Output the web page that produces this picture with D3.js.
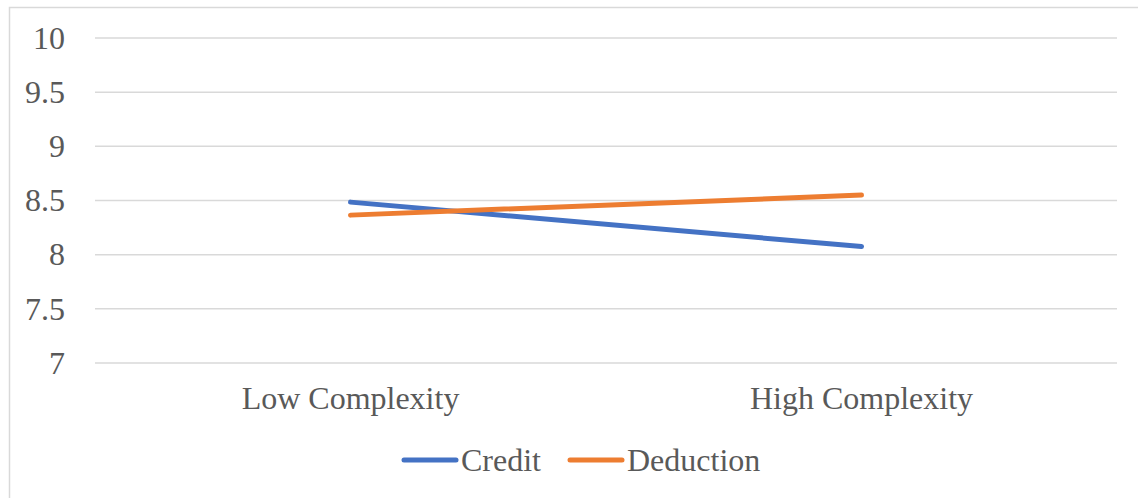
<!DOCTYPE html>
<html>
<head>
<meta charset="utf-8">
<script src="https://cdn.jsdelivr.net/npm/d3@7"></script>
<style>
  body { margin: 0; background: #fff; }
  text { font-family: "Liberation Serif", "Times New Roman", serif; fill: #595959; }
</style>
</head>
<body>
<svg id="chart"></svg>
<script>
const categories = ["Low Complexity", "High Complexity"];
const creditValues = [8.485, 8.075];
const deductionValues = [8.365, 8.55];
const yTicks = [7, 7.5, 8, 8.5, 9, 9.5, 10];
const seriesNames = ["Credit", "Deduction"];
const seriesColors = ["#4472C4", "#ED7D31"];

const W = 1138, H = 498;
const margin = { top: 38, right: 21, bottom: 135, left: 95 },
  width = W - margin.left - margin.right,
  height = H - margin.top - margin.bottom;

const svgRoot = d3.select("#chart").attr("width", W).attr("height", H);

// outer chart border
svgRoot.append("rect")
  .attr("x", 9.5).attr("y", 7.5)
  .attr("width", W + 20).attr("height", H + 20)
  .attr("fill", "none")
  .attr("stroke", "#d9d9d9")
  .attr("stroke-width", 1.5);

const svg = svgRoot.append("g")
  .attr("transform", `translate(${margin.left},${margin.top})`);

const x = d3.scaleBand().domain(categories).range([0, width]);
const y = d3.scaleLinear().domain([7, 10]).range([height, 0]);

// gridlines
svg.append("g")
  .selectAll("line")
  .data(yTicks)
  .enter()
  .append("line")
  .attr("x1", 0).attr("x2", width)
  .attr("y1", d => y(d)).attr("y2", d => y(d))
  .attr("stroke", "#d9d9d9")
  .attr("stroke-width", 1.5);

// y labels
const yAxis = svg.append("g")
  .call(d3.axisLeft(y).tickValues(yTicks).tickSize(0).tickPadding(30).tickFormat(d => d));
yAxis.select(".domain").remove();
yAxis.selectAll("text")
  .style("font-size", "32px")
  .style("font-family", "'Liberation Serif', serif")
  .attr("fill", "#595959");

// x labels
const xAxis = svg.append("g")
  .attr("transform", `translate(0,${height})`)
  .call(d3.axisBottom(x).tickSize(0).tickPadding(23));
xAxis.select(".domain").remove();
xAxis.selectAll("text")
  .style("font-size", "32px")
  .style("font-family", "'Liberation Serif', serif")
  .attr("fill", "#595959");

const series = [creditValues, deductionValues];
const line = d3.line()
  .x((d, i) => x(categories[i]) + x.bandwidth() / 2)
  .y(d => y(d));

svg.selectAll(".series")
  .data(series)
  .enter()
  .append("path")
  .attr("class", "series")
  .attr("d", d => line(d))
  .attr("fill", "none")
  .attr("stroke", (d, i) => seriesColors[i])
  .attr("stroke-width", 5)
  .attr("stroke-linecap", "round");

// legend
const legend = svgRoot.append("g").attr("transform", "translate(0,460)");
const legendX = [404, 570];
seriesNames.forEach((name, i) => {
  legend.append("line")
    .attr("x1", legendX[i]).attr("x2", legendX[i] + 52)
    .attr("y1", 0).attr("y2", 0)
    .attr("stroke", seriesColors[i])
    .attr("stroke-width", 5)
    .attr("stroke-linecap", "round");
  legend.append("text")
    .attr("x", legendX[i] + 57)
    .attr("y", 0)
    .attr("dy", "0.35em")
    .style("font-size", "32px")
    .text(name);
});
</script>
</body>
</html>
